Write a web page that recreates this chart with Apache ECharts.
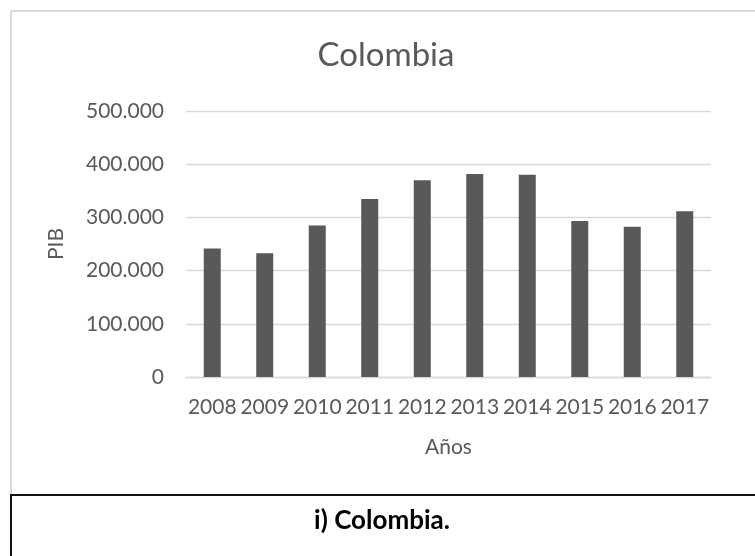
<!DOCTYPE html>
<html>
<head>
<meta charset="utf-8">
<title>Colombia - PIB</title>
<script src="https://cdn.jsdelivr.net/npm/echarts@6/dist/echarts.min.js"></script>
<style>
  html, body { margin: 0; padding: 0; background: #ffffff; }
  #chart { width: 755px; height: 556px; }
</style>
</head>
<body>
<div id="chart"></div>
<script>
// PIB de Colombia por año
const years = ['2008', '2009', '2010', '2011', '2012', '2013', '2014', '2015', '2016', '2017'];
const pib = [241500, 232500, 285000, 334500, 370000, 381500, 380000, 293000, 282500, 311500];

// Eje Y: 0 a 500.000 en pasos de 100.000
const yMin = 0;
const yMax = 500000;
const yStep = 100000;

const chartTitle = 'Colombia';
const xName = 'Años';
const yName = 'PIB';
const caption = 'i) Colombia.';

const FONT = 'Lato, "Open Sans", sans-serif';
const TEXT_GREY = '#595959';
const GRID_GREY = '#d9d9d9';

// Separador de miles con punto (formato es-CO)
function miles(v) {
  return String(v).replace(/\B(?=(\d{3})+(?!\d))/g, '.');
}

const chart = echarts.init(document.getElementById('chart'), null, { renderer: 'canvas' });

chart.setOption({
  backgroundColor: '#ffffff',
  animation: false,
  grid: { left: 186, right: 44, top: 111, bottom: 179, containLabel: false },
  xAxis: {
    type: 'category',
    data: years,
    name: xName,
    nameLocation: 'middle',
    nameGap: 60,
    nameTextStyle: { color: TEXT_GREY, fontFamily: FONT, fontSize: 21 },
    axisLine: { show: true, lineStyle: { color: GRID_GREY, width: 1.3 } },
    axisTick: { show: false },
    axisLabel: { color: TEXT_GREY, fontFamily: FONT, fontSize: 21, margin: 20, interval: 0 }
  },
  yAxis: {
    type: 'value',
    min: yMin,
    max: yMax,
    interval: yStep,
    name: yName,
    nameLocation: 'middle',
    nameRotate: 90,
    nameGap: 119,
    nameTextStyle: { color: TEXT_GREY, fontFamily: FONT, fontSize: 21 },
    axisLine: { show: false },
    axisTick: { show: false },
    axisLabel: { color: TEXT_GREY, fontFamily: FONT, fontSize: 21, margin: 22, formatter: miles },
    splitLine: { lineStyle: { color: GRID_GREY, width: 1.3 } }
  },
  series: [{
    type: 'bar',
    data: pib,
    barWidth: 17,
    itemStyle: { color: '#595959' }
  }],
  graphic: [
    {
      type: 'rect', silent: true, z: -1,
      shape: { x: 11, y: 11, width: 800, height: 484 },
      style: { fill: 'none', stroke: GRID_GREY, lineWidth: 2 }
    },
    {
      type: 'rect', silent: true, z: 10,
      shape: { x: 11, y: 495, width: 800, height: 100 },
      style: { fill: '#ffffff', stroke: '#111111', lineWidth: 2 }
    },
    {
      type: 'text', silent: true, z: 11,
      x: 386, y: 55,
      style: { text: chartTitle, fill: TEXT_GREY, font: '33px ' + FONT, align: 'center', verticalAlign: 'middle' }
    },
    {
      type: 'text', silent: true, z: 11,
      x: 382, y: 521,
      style: { text: caption, fill: '#000000', font: 'bold 26px ' + FONT, align: 'center', verticalAlign: 'middle' }
    }
  ]
});
</script>
</body>
</html>
